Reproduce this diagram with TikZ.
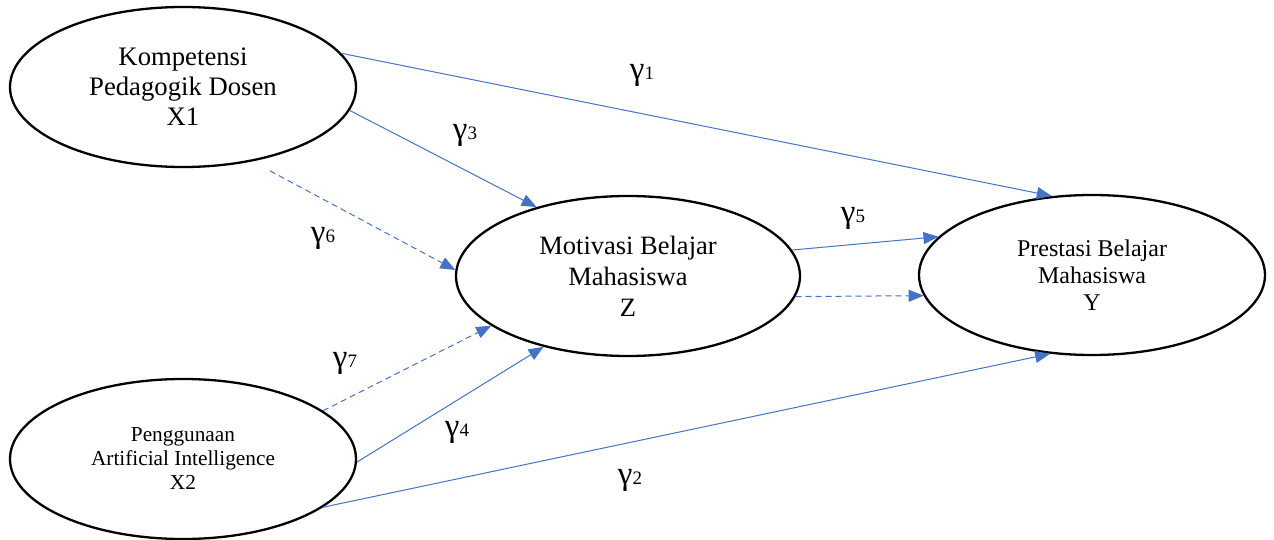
\documentclass[tikz,border=0pt]{standalone}
\usepackage{fontspec}
\setmainfont{Liberation Serif}
\usetikzlibrary{arrows.meta, positioning, shapes.geometric}

\definecolor{pathblue}{HTML}{4472C4}
\newcommand{\gam}[1]{γ{\fontsize{19}{19}\selectfont #1}}

\begin{document}
\begin{tikzpicture}[x=1pt, y=-1pt,
  latent/.style={ellipse, draw, line width=2.3pt, minimum width=346pt,
                 minimum height=160pt, inner sep=0pt, align=center},
  direct/.style={draw=pathblue, line width=1pt,
                 -{Triangle[length=15pt, width=12pt]}},
  indirect/.style={direct, dash pattern=on 6pt off 4pt},
  coef/.style={font=\fontsize{33}{36}\selectfont, inner sep=0pt}
]
\useasboundingbox (0,0) rectangle (1274,540);

\node[latent, font=\fontsize{26.7}{30}\selectfont] (X1) at (183,87)
  {Kompetensi\\Pedagogik Dosen\\X1};
\node[latent, font=\fontsize{21.3}{24}\selectfont] (X2) at (183,459)
  {Penggunaan\\Artificial Intelligence\\X2};
\node[latent, minimum width=344pt, font=\fontsize{26.5}{31}\selectfont] (Z) at (628,276)
  {Motivasi Belajar\\Mahasiswa\\Z};
\node[latent, font=\fontsize{24}{27}\selectfont] (Y) at (1092,275)
  {Prestasi Belajar\\Mahasiswa\\Y};

\draw[direct] (X1.12.8) -- (Y.117.7);
\draw[direct] (X2.-19) -- (Y.242.3);
\draw[direct] (X1.-8.6) -- (Z.143.8);
\draw[direct] (X2.-1) -- (Z.220);
\draw[direct] (Z.9.6) -- (Y.166.5);
\draw[indirect, shorten <=20pt] (X1.-47.5) -- (Z.178);
\draw[indirect] (X2.19.8) -- (Z.200);
\draw[indirect] (Z.-7.2) -- (Y.187.5);

\node[coef] (g1) at (642,75) {\gam{1}};
\node[coef] (g2) at (630,480) {\gam{2}};
\node[coef] (g3) at (465,135) {\gam{3}};
\node[coef] (g4) at (457,432) {\gam{4}};
\node[coef] (g5) at (853,218) {\gam{5}};
\node[coef] (g6) at (323,238) {\gam{6}};
\node[coef] (g7) at (345,363) {\gam{7}};
\end{tikzpicture}
\end{document}
